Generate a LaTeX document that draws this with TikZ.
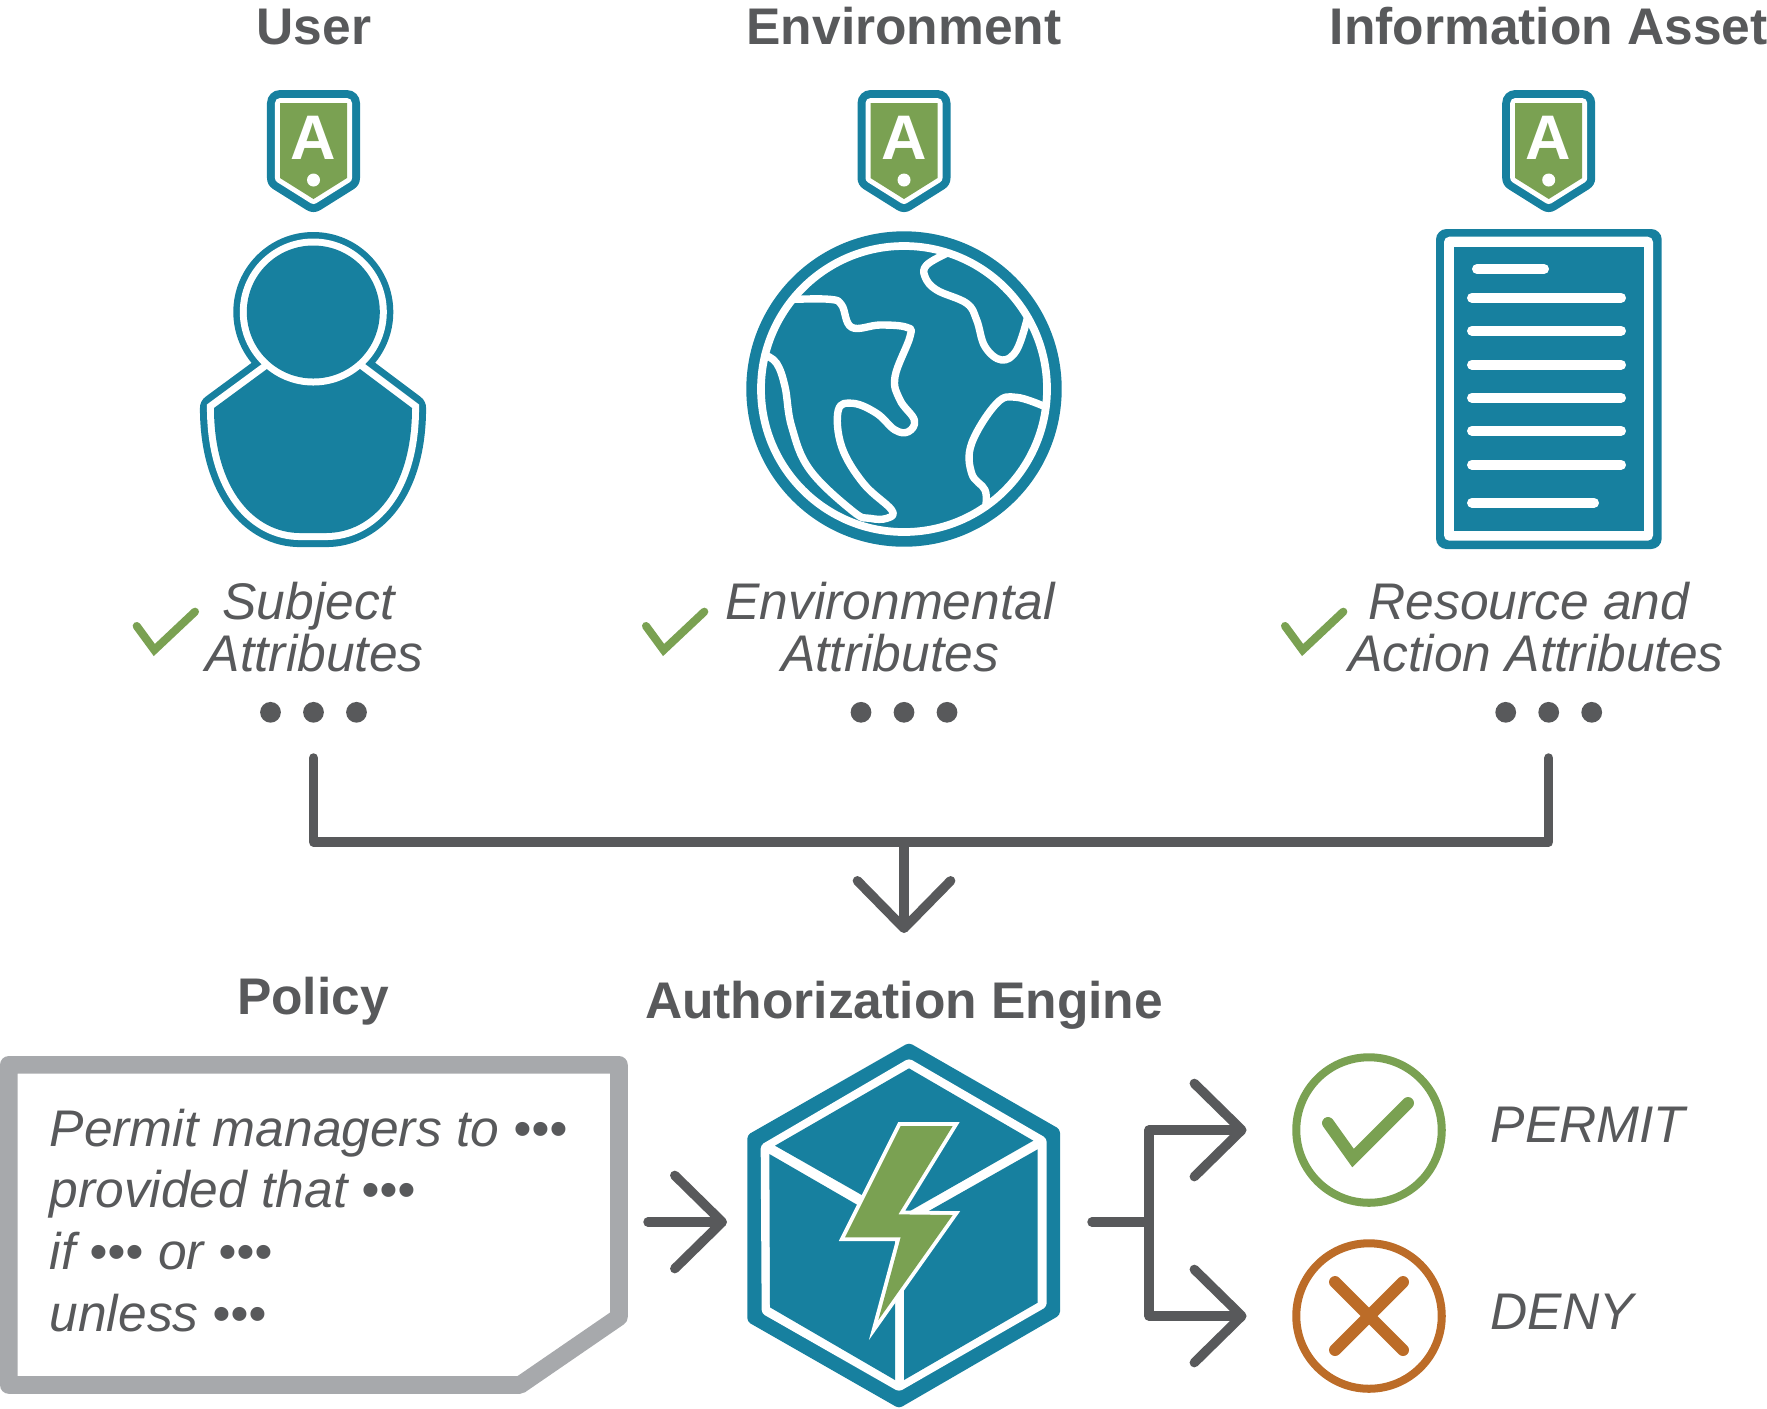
\documentclass[tikz,border=0pt]{standalone}
\usepackage{fontspec}
\setmainfont{Liberation Sans}
\usetikzlibrary{arrows.meta}
\definecolor{brand}{HTML}{17809F}
\definecolor{leaf}{HTML}{7AA152}
\definecolor{rust}{HTML}{BC6C28}
\definecolor{ink}{HTML}{58595B}
\definecolor{frame}{HTML}{A7A9AC}
\begin{document}
\begin{tikzpicture}[x=0.01cm, y=-0.01cm,
    heading/.style={anchor=base, text=ink, inner sep=0pt, font=\fontsize{14.65}{17}\selectfont\bfseries},
    attr/.style={anchor=base, text=ink, inner sep=0pt, font=\fontsize{14.65}{14.8}\selectfont\itshape, align=center},
    verdict/.style={anchor=base west, text=ink, inner sep=0pt, font=\fontsize{14.65}{17}\selectfont\itshape},
    rule/.style={ink, line width=2.7pt, line cap=round, line join=round},
    barb/.style={-{Straight Barb[round, length=13.5pt, width=26.5pt]}},
    sep/.style={white, line width=2.1pt, line cap=round, line join=round},
    dot/.style={circle, fill=ink, inner sep=0pt, minimum size=5.9pt},
    result/.style={circle, line width=2.28pt, inner sep=0pt, minimum size=1.454cm}]
  \useasboundingbox (0,0) rectangle (1767,1408);

  % tags, dots and ticks of the three columns
  \foreach \name/\xpos/\tickx in {user/313.5/136.7, env/904/646, asset/1548.7/1285} {
    \begin{scope}[shift={(\xpos,0)}]
      \def\tagshape{(-33.5,103) -- (33.5,103) -- (33.5,178) -- (0,199) -- (-33.5,178) -- cycle}
      \draw[brand, line width=7.4pt, line join=round] \tagshape;
      \draw[white, line width=2.85pt, line join=round] \tagshape;
      \fill[leaf] \tagshape;
      \node[anchor=base, text=white, inner sep=0pt, font=\fontsize{17.9}{18}\selectfont\bfseries] (\name tag) at (0,159) {A};
      \fill[white] (0,180) circle (6.5);
      \foreach \offs in {-43, 0, 43}
        \node[dot] (\name dot\offs) at (\offs,712.3) {};
      \coordinate (\name out) at (0,758);
    \end{scope}
    \draw[leaf, line width=2.3pt, line cap=round] (\tickx,626) -- +(17.6,24) -- +(58.3,-14.3);
  }

  % person
  \def\bodyshape{(214,408) -- (267,369) -- (360,369) -- (412,408) .. controls (412,490) and (372,533) .. (326,533)
    -- (300,533) .. controls (255,533) and (214,490) .. (214,408) -- cycle}
  \fill[brand] (313.3,312) circle (80);
  \draw[brand, line width=8pt, line join=round] \bodyshape;
  \draw[white, line width=4pt] \bodyshape;
  \fill[brand] \bodyshape;
  \fill[white] (313.3,312) circle (73.5);
  \fill[brand] (313.3,312) circle (66.5);

  % globe
  \fill[brand] (904,389) circle (157.7);
  \draw[white, line width=2.2pt] (904,389) circle (143);
  \begin{scope}[shift={(730,220)}, scale=1/3]
    \draw[sep] plot[smooth, tension=0.65] coordinates {(190,238) (300,238) (335,255) (365,322) (450,315) (530,322)
      (540,350) (495,470) (510,540) (553,600) (535,635) (495,630) (440,580) (370,550) (325,570) (335,680) (400,790)
      (485,870) (470,895) (420,895) (370,875) (240,750) (185,620) (165,500) (140,430) (105,405)};
    \draw[sep] plot[smooth, tension=0.65] coordinates {(650,100) (590,135) (585,170) (620,210) (710,250) (740,300)
      (765,380) (815,420) (860,390) (892,295)};
    \draw[sep] plot[smooth, tension=0.65] coordinates {(945,560) (860,532) (800,550) (725,670) (725,760) (765,810) (767,860)};
  \end{scope}

  % document
  \fill[brand, rounded corners=3pt] (1436,229) rectangle (1661.7,549);
  \fill[white, rounded corners=1.5pt] (1444,236.7) rectangle (1653,540.7);
  \fill[brand] (1454,246.7) rectangle (1644,531);
  \draw[white, line width=2.85pt, line cap=round] (1477,269) -- (1544,269);
  \foreach \ypos in {297.7, 330.7, 364.7, 397.7, 430.7, 464.7}
    \draw[white, line width=2.85pt, line cap=round] (1472,\ypos) -- (1621,\ypos);
  \draw[white, line width=2.85pt, line cap=round] (1472,502.7) -- (1594,502.7);

  % engine
  \begin{scope}[shift={(720,1030)}, scale=1/3]
    \fill[brand, rounded corners=1pt] (567,38) -- (1020,298) -- (1020,855) -- (537,1135) -- (82,875) -- (82,315) -- cycle;
    \fill[white, rounded corners=1pt] (567,85) -- (980,325) -- (980,830) -- (537,1085) -- (125,850) -- (122,345) -- cycle;
    \fill[brand] (567,115) -- (940,332) -- (540,560) -- (165,347) -- cycle;
    \fill[brand] (148,372) -- (525,590) -- (525,1050) -- (150,832) -- cycle;
    \fill[brand] (953,358) -- (552,585) -- (552,1050) -- (953,818) -- cycle;
    \def\boltshape{(542,288) -- (698,288) -- (535,553) -- (698,555) -- (475,870) -- (542,622) -- (375,622) -- cycle}
    \draw[white, line width=2.2pt, miter limit=6] \boltshape;
    \fill[leaf] \boltshape;
  \end{scope}

  % policy
  \draw[frame, line width=5pt, line join=round] (8.8,1064.8) -- (619,1064.8) -- (619,1317) -- (520,1385) -- (8.8,1385) -- cycle;
  \node[anchor=base west, text=ink, inner sep=0pt, font=\fontsize{14.65}{17.5}\selectfont\itshape, align=left] (policytext) at (49,1331)
    {Permit managers to •••\\provided that •••\\if ••• or •••\\unless •••};

  \node[heading] (userhead) at (314,44) {User};
  \node[heading] (envhead) at (904,44) {Environment};
  \node[heading] (assethead) at (1548.7,44) {Information Asset};
  \node[heading] (policyhead) at (313,1014) {Policy};
  \node[heading] (enginehead) at (904,1018) {Authorization Engine};

  \node[attr] (userattr) at (314.7,671.7) {Subject\kern3.5pt\\Attributes};
  \node[attr] (envattr) at (890,671.7) {Environmental\\Attributes};
  \node[attr] (assetattr) at (1536,671.7) {Resource and\kern4pt\\Action Attributes};

  % verdicts
  \node[result, draw=leaf] (permit) at (1369,1130) {};
  \node[result, draw=rust] (deny) at (1369,1316) {};
  \draw[leaf, line width=3.4pt, line cap=round] (1328,1123) -- (1353,1158) -- (1408,1103);
  \draw[rust, line width=3.4pt, line cap=round] (1335,1282) -- (1403,1350) (1403,1282) -- (1335,1350);
  \node[verdict] (permitlabel) at (1490,1142) {PERMIT};
  \node[verdict] (denylabel) at (1490,1329) {DENY};

  % connectors
  \coordinate (busjoin) at (904,842);
  \coordinate (enginetop) at (904,933);
  \coordinate (policyout) at (648,1222);
  \coordinate (enginein) at (727,1222);
  \coordinate (engineout) at (1092,1222);
  \coordinate (forkjoin) at (1149,1222);
  \draw[rule] (userout) |- (busjoin) -| (assetout);
  \draw[rule, barb] (busjoin) -- (enginetop);
  \draw[rule, barb] (policyout) -- (enginein);
  \draw[rule] (engineout) -- (forkjoin);
  \draw[rule, barb, shorten >=13pt] (forkjoin) |- (permit);
  \draw[rule, barb, shorten >=13pt] (forkjoin) |- (deny);
\end{tikzpicture}
\end{document}
